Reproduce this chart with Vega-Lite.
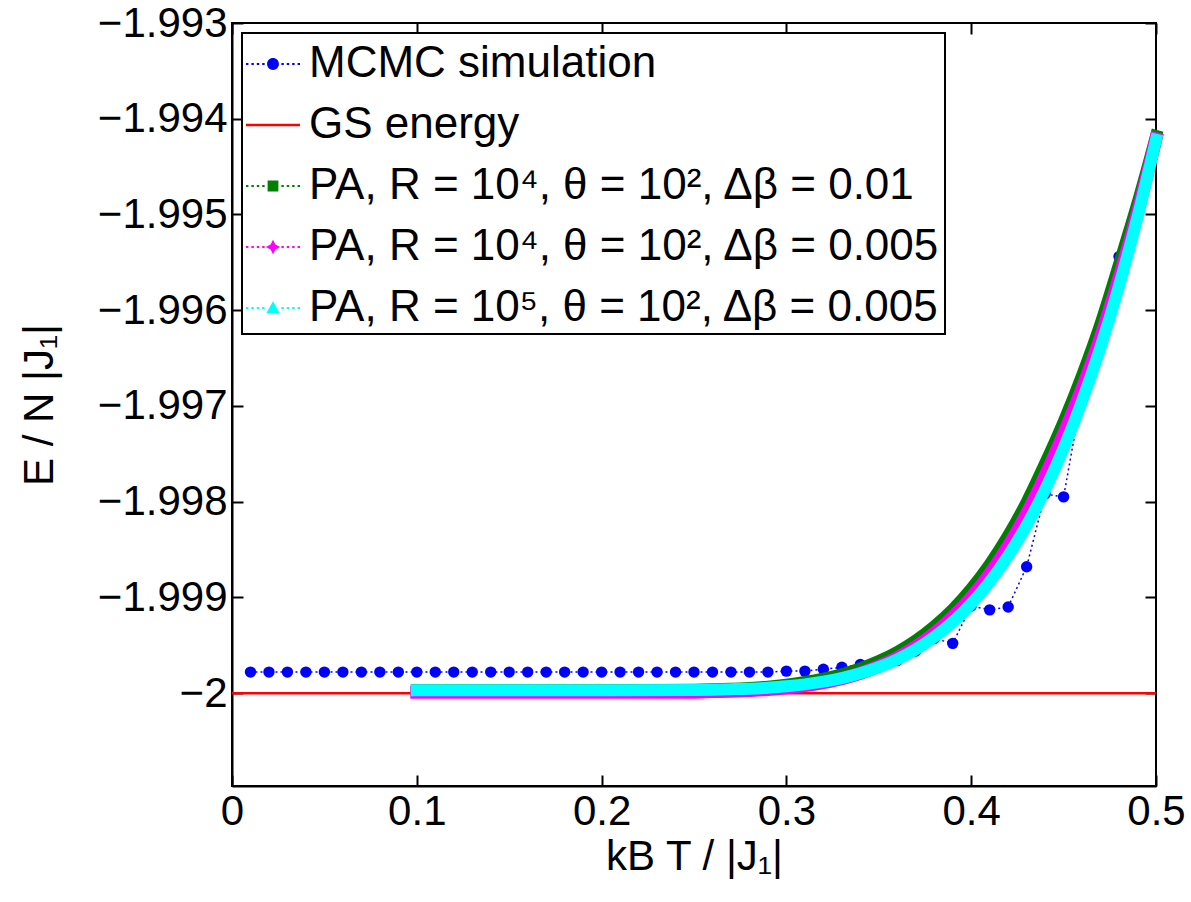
{
  "$schema": "https://vega.github.io/schema/vega-lite/v6.json",
  "width": 924,
  "height": 763,
  "autosize": {"type": "none"},
  "padding": {"left": 232, "top": 23, "right": 35, "bottom": 116},
  "background": "white",
  "config": {
    "view": {"stroke": "black", "strokeWidth": 2},
    "font": "Liberation Sans",
    "axis": {
      "grid": false,
      "domainColor": "black",
      "domainWidth": 2,
      "tickColor": "black",
      "tickWidth": 2,
      "tickSize": -11,
      "labelFlush": false,
      "labelFont": "Liberation Sans",
      "labelFontSize": 42,
      "labelColor": "black",
      "titleFont": "Liberation Sans",
      "titleFontSize": 42,
      "titleFontWeight": "normal",
      "titleColor": "black"
    },
    "legend": {
      "orient": "top-left",
      "offset": 10,
      "padding": 4,
      "rowPadding": 12,
      "labelFont": "Liberation Sans",
      "labelFontSize": 44,
      "labelColor": "black",
      "labelLimit": 2000,
      "labelOffset": 9,
      "symbolSize": 2916,
      "strokeColor": "black",
      "strokeWidth": 2,
      "fillColor": "white",
      "titleFontSize": 0
    }
  },
  "datasets": {
    "gs": [
      {"series": "GS energy", "T": 0, "E": -2},
      {"series": "GS energy", "T": 0.5, "E": -2}
    ],
    "mcmc": [
      {"series": "MCMC simulation", "T": 0.01, "E": -1.99978},
      {"series": "MCMC simulation", "T": 0.02, "E": -1.99978},
      {"series": "MCMC simulation", "T": 0.03, "E": -1.99978},
      {"series": "MCMC simulation", "T": 0.04, "E": -1.99978},
      {"series": "MCMC simulation", "T": 0.05, "E": -1.99978},
      {"series": "MCMC simulation", "T": 0.06, "E": -1.99978},
      {"series": "MCMC simulation", "T": 0.07, "E": -1.99978},
      {"series": "MCMC simulation", "T": 0.08, "E": -1.99978},
      {"series": "MCMC simulation", "T": 0.09, "E": -1.99978},
      {"series": "MCMC simulation", "T": 0.10, "E": -1.99978},
      {"series": "MCMC simulation", "T": 0.11, "E": -1.99978},
      {"series": "MCMC simulation", "T": 0.12, "E": -1.99978},
      {"series": "MCMC simulation", "T": 0.13, "E": -1.99978},
      {"series": "MCMC simulation", "T": 0.14, "E": -1.99978},
      {"series": "MCMC simulation", "T": 0.15, "E": -1.99978},
      {"series": "MCMC simulation", "T": 0.16, "E": -1.99978},
      {"series": "MCMC simulation", "T": 0.17, "E": -1.99978},
      {"series": "MCMC simulation", "T": 0.18, "E": -1.99978},
      {"series": "MCMC simulation", "T": 0.19, "E": -1.99978},
      {"series": "MCMC simulation", "T": 0.20, "E": -1.99978},
      {"series": "MCMC simulation", "T": 0.21, "E": -1.99978},
      {"series": "MCMC simulation", "T": 0.22, "E": -1.99978},
      {"series": "MCMC simulation", "T": 0.23, "E": -1.99978},
      {"series": "MCMC simulation", "T": 0.24, "E": -1.99978},
      {"series": "MCMC simulation", "T": 0.25, "E": -1.99978},
      {"series": "MCMC simulation", "T": 0.26, "E": -1.99978},
      {"series": "MCMC simulation", "T": 0.27, "E": -1.99978},
      {"series": "MCMC simulation", "T": 0.28, "E": -1.99978},
      {"series": "MCMC simulation", "T": 0.29, "E": -1.99978},
      {"series": "MCMC simulation", "T": 0.30, "E": -1.99977},
      {"series": "MCMC simulation", "T": 0.31, "E": -1.99977},
      {"series": "MCMC simulation", "T": 0.32, "E": -1.99975},
      {"series": "MCMC simulation", "T": 0.33, "E": -1.99973},
      {"series": "MCMC simulation", "T": 0.34, "E": -1.9997},
      {"series": "MCMC simulation", "T": 0.35, "E": -1.99973},
      {"series": "MCMC simulation", "T": 0.36, "E": -1.99966},
      {"series": "MCMC simulation", "T": 0.37, "E": -1.99956},
      {"series": "MCMC simulation", "T": 0.38, "E": -1.99943},
      {"series": "MCMC simulation", "T": 0.39, "E": -1.99948},
      {"series": "MCMC simulation", "T": 0.40, "E": -1.99909},
      {"series": "MCMC simulation", "T": 0.41, "E": -1.99913},
      {"series": "MCMC simulation", "T": 0.42, "E": -1.9991},
      {"series": "MCMC simulation", "T": 0.43, "E": -1.99868},
      {"series": "MCMC simulation", "T": 0.44, "E": -1.99792},
      {"series": "MCMC simulation", "T": 0.45, "E": -1.99795},
      {"series": "MCMC simulation", "T": 0.46, "E": -1.99687},
      {"series": "MCMC simulation", "T": 0.47, "E": -1.99638},
      {"series": "MCMC simulation", "T": 0.48, "E": -1.99544},
      {"series": "MCMC simulation", "T": 0.49, "E": -1.99503},
      {"series": "MCMC simulation", "T": 0.50, "E": -1.99422}
    ],
    "green": [
      {"T": 0.10, "E": -1.99997},
      {"T": 0.15, "E": -1.99997},
      {"T": 0.20, "E": -1.99997},
      {"T": 0.25, "E": -1.999964},
      {"T": 0.26, "E": -1.99996},
      {"T": 0.27, "E": -1.999954},
      {"T": 0.28, "E": -1.999945},
      {"T": 0.29, "E": -1.999932},
      {"T": 0.30, "E": -1.999912},
      {"T": 0.31, "E": -1.999884},
      {"T": 0.32, "E": -1.999848},
      {"T": 0.33, "E": -1.999802},
      {"T": 0.34, "E": -1.999742},
      {"T": 0.35, "E": -1.999665},
      {"T": 0.36, "E": -1.99957},
      {"T": 0.37, "E": -1.99945},
      {"T": 0.38, "E": -1.999302},
      {"T": 0.39, "E": -1.999125},
      {"T": 0.40, "E": -1.99891},
      {"T": 0.41, "E": -1.998655},
      {"T": 0.42, "E": -1.998355},
      {"T": 0.43, "E": -1.998005},
      {"T": 0.44, "E": -1.9976},
      {"T": 0.45, "E": -1.997165},
      {"T": 0.46, "E": -1.99668},
      {"T": 0.47, "E": -1.99614},
      {"T": 0.48, "E": -1.99552},
      {"T": 0.49, "E": -1.99488},
      {"T": 0.50, "E": -1.99418}
    ],
    "magenta": [
      {"T": 0.10, "E": -1.99999},
      {"T": 0.15, "E": -1.99999},
      {"T": 0.20, "E": -1.99999},
      {"T": 0.25, "E": -1.99999},
      {"T": 0.26, "E": -1.999984},
      {"T": 0.27, "E": -1.999979},
      {"T": 0.28, "E": -1.999972},
      {"T": 0.29, "E": -1.999962},
      {"T": 0.30, "E": -1.999945},
      {"T": 0.31, "E": -1.999922},
      {"T": 0.32, "E": -1.999889},
      {"T": 0.33, "E": -1.999848},
      {"T": 0.34, "E": -1.999792},
      {"T": 0.35, "E": -1.99972},
      {"T": 0.36, "E": -1.99963},
      {"T": 0.37, "E": -1.999515},
      {"T": 0.38, "E": -1.999375},
      {"T": 0.39, "E": -1.999205},
      {"T": 0.40, "E": -1.999},
      {"T": 0.41, "E": -1.998755},
      {"T": 0.42, "E": -1.998465},
      {"T": 0.43, "E": -1.998125},
      {"T": 0.44, "E": -1.99773},
      {"T": 0.45, "E": -1.99729},
      {"T": 0.46, "E": -1.996815},
      {"T": 0.47, "E": -1.99628},
      {"T": 0.48, "E": -1.99566},
      {"T": 0.49, "E": -1.99498},
      {"T": 0.50, "E": -1.99421}
    ],
    "cyan": [
      {"T": 0.10, "E": -1.99997},
      {"T": 0.15, "E": -1.99997},
      {"T": 0.20, "E": -1.99997},
      {"T": 0.25, "E": -1.999967},
      {"T": 0.26, "E": -1.999964},
      {"T": 0.27, "E": -1.999959},
      {"T": 0.28, "E": -1.999953},
      {"T": 0.29, "E": -1.999943},
      {"T": 0.30, "E": -1.999929},
      {"T": 0.31, "E": -1.999908},
      {"T": 0.32, "E": -1.99988},
      {"T": 0.33, "E": -1.999843},
      {"T": 0.34, "E": -1.999793},
      {"T": 0.35, "E": -1.999729},
      {"T": 0.36, "E": -1.999647},
      {"T": 0.37, "E": -1.999543},
      {"T": 0.38, "E": -1.999414},
      {"T": 0.39, "E": -1.999257},
      {"T": 0.40, "E": -1.999066},
      {"T": 0.41, "E": -1.998837},
      {"T": 0.42, "E": -1.998565},
      {"T": 0.43, "E": -1.998246},
      {"T": 0.44, "E": -1.997874},
      {"T": 0.45, "E": -1.997443},
      {"T": 0.46, "E": -1.996948},
      {"T": 0.47, "E": -1.996385},
      {"T": 0.48, "E": -1.995745},
      {"T": 0.49, "E": -1.995026},
      {"T": 0.50, "E": -1.99422}
    ]
  },
  "resolve": {"axis": {"x": "independent", "y": "independent"}},
  "layer": [
    {
      "encoding": {
        "x": {
          "field": "T",
          "type": "quantitative",
          "scale": {"domain": [0, 0.5], "nice": false, "zero": false},
          "axis": {
            "orient": "bottom",
            "values": [0, 0.1, 0.2, 0.3, 0.4, 0.5],
            "format": "~g",
            "title": "kB T / |J₁|",
            "labelPadding": 16,
            "titlePadding": 4
          }
        },
        "y": {
          "field": "E",
          "type": "quantitative",
          "scale": {"domain": [-2.00097, -1.993], "nice": false, "zero": false},
          "axis": {
            "orient": "left",
            "values": [-2, -1.999, -1.998, -1.997, -1.996, -1.995, -1.994, -1.993],
            "format": ".3~f",
            "title": "E / N |J₁|",
            "labelPadding": 16,
            "titlePadding": 36
          }
        }
      },
      "layer": [
        {
          "data": {"name": "gs"},
          "mark": {"type": "line", "color": "#ff0000", "strokeWidth": 2.5},
          "encoding": {
            "color": {
              "field": "series",
              "type": "nominal",
              "scale": {
                "domain": ["MCMC simulation", "GS energy", "PA, R = 10⁴, θ = 10², Δβ = 0.01", "PA, R = 10⁴, θ = 10², Δβ = 0.005", "PA, R = 10⁵, θ = 10², Δβ = 0.005"],
                "range": ["#0000ff", "#ff0000", "#008000", "#ff00ff", "#00ffff"]
              },
              "legend": {
                "title": null,
                "encode": {
                  "symbols": {
                    "update": {
                      "shape": {"signal": "datum.value === 'MCMC simulation' ? 'M-1,-0.04h0.09v0.08h-0.09zM-0.8,-0.04h0.09v0.08h-0.09zM-0.6,-0.04h0.09v0.08h-0.09zM-0.4,-0.04h0.09v0.08h-0.09zM0.31,-0.04h0.09v0.08h-0.09zM0.51,-0.04h0.09v0.08h-0.09zM0.71,-0.04h0.09v0.08h-0.09zM0.91,-0.04h0.09v0.08h-0.09zM-0.22,0a0.22,0.22 0 1,0 0.44,0a0.22,0.22 0 1,0 -0.44,0z' : datum.value === 'GS energy' ? 'M-1,-0.045h2v0.09h-2z' : datum.value === 'PA, R = 10⁴, θ = 10², Δβ = 0.01' ? 'M-1,-0.04h0.09v0.08h-0.09zM-0.8,-0.04h0.09v0.08h-0.09zM-0.6,-0.04h0.09v0.08h-0.09zM-0.4,-0.04h0.09v0.08h-0.09zM0.31,-0.04h0.09v0.08h-0.09zM0.51,-0.04h0.09v0.08h-0.09zM0.71,-0.04h0.09v0.08h-0.09zM0.91,-0.04h0.09v0.08h-0.09zM-0.2,-0.2h0.4v0.4h-0.4z' : datum.value === 'PA, R = 10⁴, θ = 10², Δβ = 0.005' ? 'M-1,-0.04h0.09v0.08h-0.09zM-0.8,-0.04h0.09v0.08h-0.09zM-0.6,-0.04h0.09v0.08h-0.09zM-0.4,-0.04h0.09v0.08h-0.09zM0.31,-0.04h0.09v0.08h-0.09zM0.51,-0.04h0.09v0.08h-0.09zM0.71,-0.04h0.09v0.08h-0.09zM0.91,-0.04h0.09v0.08h-0.09zM0,-0.27L0.09,-0.09L0.27,0L0.09,0.09L0,0.27L-0.09,0.09L-0.27,0L-0.09,-0.09z' : 'M-1,-0.04h0.09v0.08h-0.09zM-0.8,-0.04h0.09v0.08h-0.09zM-0.6,-0.04h0.09v0.08h-0.09zM-0.4,-0.04h0.09v0.08h-0.09zM0.31,-0.04h0.09v0.08h-0.09zM0.51,-0.04h0.09v0.08h-0.09zM0.71,-0.04h0.09v0.08h-0.09zM0.91,-0.04h0.09v0.08h-0.09zM0,-0.25L0.25,0.19L-0.25,0.19z'"},
                      "fill": {"signal": "scale('color', datum.value)"},
                      "stroke": {"value": "transparent"},
                      "strokeWidth": {"value": 0},
                      "size": {"value": 2916},
                      "opacity": {"value": 1}
                    }
                  }
                }
              }
            }
          }
        },
        {
          "data": {"name": "mcmc"},
          "mark": {"type": "line", "color": "#0000ff", "strokeWidth": 1.5, "strokeDash": [2, 3]},
          "encoding": {}
        },
        {
          "data": {"name": "mcmc"},
          "mark": {"type": "point", "filled": true, "shape": "circle", "size": 130, "color": "#0000ff", "opacity": 1},
          "encoding": {}
        },
        {
          "data": {"name": "green"},
          "mark": {"type": "line", "color": "#008000", "strokeWidth": 12, "strokeCap": "square", "interpolate": "monotone"},
          "encoding": {}
        },
        {
          "data": {"name": "magenta"},
          "mark": {"type": "line", "color": "#ff00ff", "strokeWidth": 13, "strokeCap": "square", "interpolate": "monotone"},
          "encoding": {}
        },
        {
          "data": {"name": "cyan"},
          "mark": {"type": "line", "color": "#00ffff", "strokeWidth": 12, "strokeCap": "square", "interpolate": "monotone"},
          "encoding": {}
        }
      ]
    },
    {
      "data": {"name": "gs"},
      "mark": {"type": "point", "opacity": 0},
      "encoding": {
        "x": {
          "field": "T",
          "type": "quantitative",
          "axis": {"orient": "top", "values": [0, 0.1, 0.2, 0.3, 0.4, 0.5], "labels": false, "title": null, "domain": false}
        },
        "y": {
          "field": "E",
          "type": "quantitative",
          "axis": {"orient": "right", "values": [-2, -1.999, -1.998, -1.997, -1.996, -1.995, -1.994, -1.993], "labels": false, "title": null, "domain": false}
        }
      }
    }
  ]
}
